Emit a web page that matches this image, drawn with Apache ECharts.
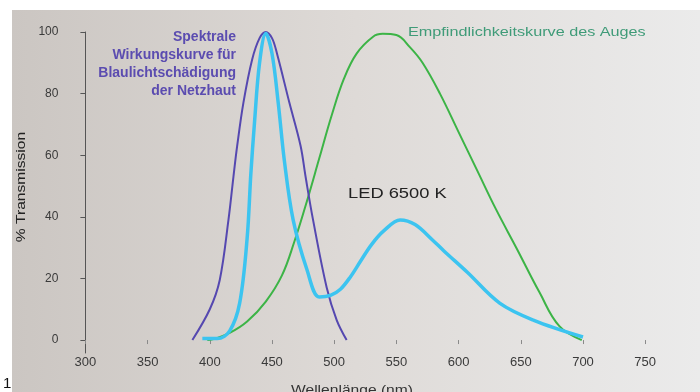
<!DOCTYPE html>
<html><head><meta charset="utf-8">
<script src="https://cdn.jsdelivr.net/npm/echarts@6/dist/echarts.min.js"></script>
<style>html,body{margin:0;padding:0;background:#fff}#c{width:700px;height:392px}</style>
</head><body><div id="c"></div>
<script>
// Data (wavelength nm, % values)
const hazardNm  = [386, 400, 408, 415, 419, 422, 427, 434, 440, 445, 450, 454, 464, 473, 477, 483, 494, 502, 510];
const hazardVal = [0, 10, 19.5, 39, 53, 63, 77, 91, 98, 100, 98, 93, 77, 63, 53, 39, 17, 6.5, 0];

const ledNm  = [394, 406, 416, 424, 430, 433, 436, 440, 445, 450, 455, 460, 467, 478, 488, 497, 505, 513, 521, 530, 540, 553, 565, 579, 588, 607, 633, 660, 700];
const ledVal = [0.5, 0.5, 3, 12, 33, 54, 71, 90, 99.5, 93, 77, 58, 39, 23, 14, 14.5, 16.5, 20.5, 25.5, 31, 35.5, 39, 37.5, 32.5, 29, 22, 12, 6.5, 1];

const eyeNm  = [398, 403, 416, 430, 445, 458, 468, 478, 488, 498, 508, 518, 531, 539, 550, 561, 571, 585, 600, 615, 630, 647, 665, 681, 699];
const eyeVal = [0, 0.3, 2.3, 6, 12.5, 21, 32, 45, 59, 73, 85, 93, 98.4, 99.4, 99, 95, 90, 80, 67.5, 55, 42.5, 29.5, 15.5, 4.5, 0];

const xTicks = [300, 350, 400, 450, 500, 550, 600, 650, 700, 750];
const yTicks = [0, 20, 40, 60, 80, 100];

const hazardLabel = ['Spektrale', 'Wirkungskurve für', 'Blaulichtschädigung', 'der Netzhaut'];
const eyeLabel = 'Empfindlichkeitskurve des Auges';
const ledLabel = 'LED 6500 K';
const xName = 'Wellenlänge (nm)';
const yName = '% Transmission';

const pairs = (xs, ys) => xs.map((x, i) => [x, ys[i]]);
const FONT = 'Liberation Sans';

const chart = echarts.init(document.getElementById('c'), null, {renderer: 'canvas'});
chart.setOption({
  animation: false,
  backgroundColor: '#ffffff',
  textStyle: {fontFamily: FONT},
  grid: {left: 85.4, right: 54.8, top: 32, bottom: 39, containLabel: false},
  xAxis: {
    type: 'value', min: 300, max: 750, interval: 50,
    axisLine: {show: true, onZero: true, lineStyle: {color: 'rgba(0,0,0,0)'}},
    axisTick: {show: true, inside: false, length: 4, lineStyle: {color: '#8a8a8a', width: 1}},
    axisLabel: {color: '#3a3a3a', fontSize: 13, margin: 3, fontFamily: FONT},
    splitLine: {show: false}
  },
  yAxis: {
    type: 'value', min: -4.2, max: 100,
    axisLine: {show: true, onZero: false, lineStyle: {color: '#555555', width: 1}},
    axisTick: {show: true, length: 5, customValues: yTicks, lineStyle: {color: '#555555'}},
    axisLabel: {customValues: yTicks, color: '#3a3a3a', fontSize: 12, margin: 27, padding: [0, 0, 6, 0], fontFamily: FONT},
    splitLine: {show: false}
  },
  graphic: [
    {type: 'rect', z: -10, silent: true, shape: {x: 12, y: 10, width: 688, height: 382},
     style: {fill: new echarts.graphic.LinearGradient(0, 0, 1, 0, [
       {offset: 0, color: '#cbc6c2'}, {offset: 0.5, color: '#dedad7'}, {offset: 1, color: '#ebebeb'}])}},
    {type: 'text', left: 3, top: 376, style: {text: '1', fill: '#111', fontSize: 15, fontFamily: FONT}},
    {type: 'text', x: 236, y: 28, style: {text: hazardLabel.join('\n'), fill: '#5b4cb0', fontSize: 14, fontWeight: 'bold', lineHeight: 18, align: 'right', fontFamily: FONT}},
    {type: 'text', x: 408, y: 25, scaleX: 1.2, style: {text: eyeLabel, fill: '#3f9b78', fontSize: 13.5, fontFamily: FONT}},
    {type: 'text', x: 348, y: 186, scaleX: 1.22, style: {text: ledLabel, fill: '#222', fontSize: 15, fontFamily: FONT}},
    {type: 'text', x: 352, y: 384, scaleX: 1.2, style: {text: xName, fill: '#333', fontSize: 13, align: 'center', fontFamily: FONT}},
    {type: 'text', x: 22, y: 187, rotation: Math.PI / 2, scaleX: 1.3, style: {text: yName, fill: '#222', fontSize: 12, align: 'center', verticalAlign: 'middle', fontFamily: FONT}}
  ],
  series: [
    {type: 'line', name: 'Blaulicht', data: pairs(hazardNm, hazardVal), smooth: 0.35, symbol: 'none',
     lineStyle: {color: '#5548b0', width: 2}, z: 3},
    {type: 'line', name: 'Auge', data: pairs(eyeNm, eyeVal), smooth: 0.4, symbol: 'none',
     lineStyle: {color: '#3cb446', width: 2}, z: 2},
    {type: 'line', name: 'LED', data: pairs(ledNm, ledVal), smooth: 0.35, symbol: 'none',
     lineStyle: {color: '#3cc4f0', width: 3.5}, z: 4}
  ]
});
</script></body></html>
